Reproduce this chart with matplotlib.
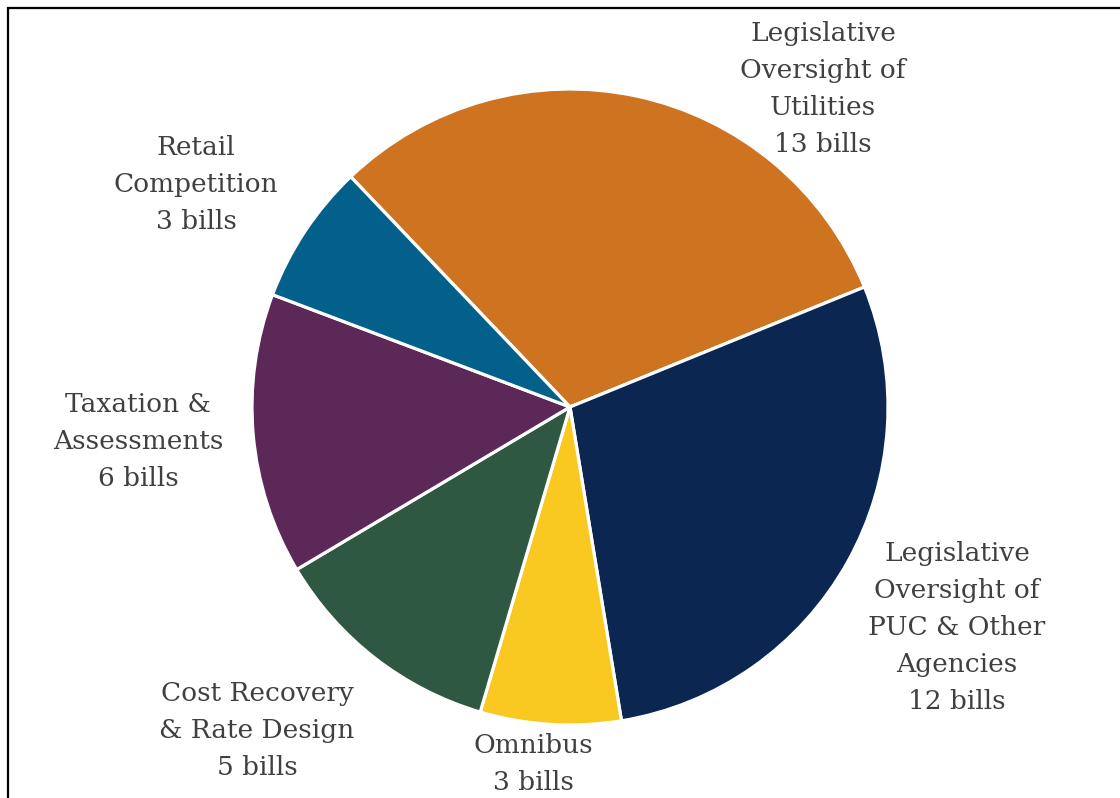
import matplotlib
matplotlib.use("Agg")
import matplotlib.pyplot as plt
from matplotlib.patches import Rectangle

# bills per topic, clockwise from the top-left
topics = [
    "Legislative\nOversight of\nUtilities",
    "Legislative\nOversight of\nPUC & Other\nAgencies",
    "Omnibus",
    "Cost Recovery\n& Rate Design",
    "Taxation &\nAssessments",
    "Retail\nCompetition",
]
bills = [13, 12, 3, 5, 6, 3]
colors = ["#CE7320", "#0A2651", "#F9C921", "#2F5842", "#5C2858", "#02608A"]

# label anchor points, in units of the pie radius
label_xy = [(0.796, 1.0), (1.217, -0.692), (-0.116, -1.123),
            (-0.984, -1.016), (-1.358, -0.110), (-1.176, 0.701)]

W, H = 1120, 798
cx, cy, R = 570, 407, 318

fig = plt.figure(figsize=(W / 100, H / 100), dpi=100)
ax = fig.add_axes([0, 0, 1, 1])

ax.pie(bills, colors=colors, startangle=133.6, counterclock=False,
       wedgeprops=dict(edgecolor="white", linewidth=2.3))
ax.set_aspect("auto")
ax.set_xlim(-cx / R, (W - cx) / R)
ax.set_ylim(-(H - cy) / R, cy / R)
ax.axis("off")

for name, n, (x, y) in zip(topics, bills, label_xy):
    ax.text(x, y, f"{name}\n{n} bills", ha="center", va="center",
            family="DejaVu Serif", fontsize=19, color="#404040",
            linespacing=1.6)

# outer frame, open at the right and bottom edges
fig.patches.append(Rectangle((8 / W, -0.1), 1.2, 1.1 - 8 / H,
                             transform=fig.transFigure, fill=False,
                             edgecolor="black", linewidth=1.6))

fig.savefig("out.png", dpi=100)
